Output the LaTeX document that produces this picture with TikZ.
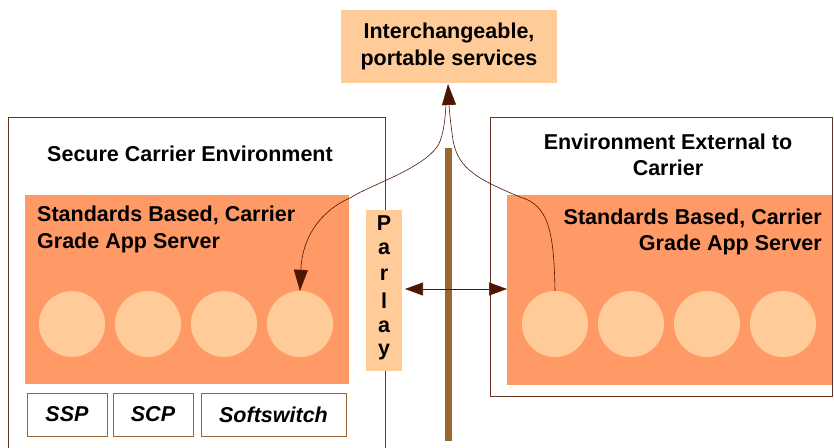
\documentclass[tikz,border=0pt]{standalone}
\usepackage{fontspec}
\setmainfont{Liberation Sans}
\usetikzlibrary{arrows.meta,positioning}
\definecolor{orangebg}{HTML}{FF9966}
\definecolor{peach}{HTML}{FFCC99}
\definecolor{brownline}{HTML}{663322}
\definecolor{barbrown}{HTML}{996633}
\definecolor{arrbrown}{HTML}{4D1600}
\tikzset{
  outerbox/.style={draw=brownline, line width=0.8pt, fill=white},
  serverbox/.style={fill=orangebg, draw=none},
  svc/.style={circle, fill=peach, draw=none, minimum size=66pt, inner sep=0pt},
  smallbox/.style={draw=barbrown, line width=1pt, fill=white, font=\bfseries\itshape\fontsize{21.5}{26}\selectfont},
  lbl/.style={font=\bfseries\fontsize{21.5}{26.5}\selectfont, inner sep=0pt},
  conn/.style={draw=arrbrown, line width=0.6pt},
  tip/.style={-{Triangle[length=21pt,width=14pt]}},
}
\begin{document}
\begin{tikzpicture}[x=1pt,y=-1pt]
\useasboundingbox (0,0) rectangle (834,447);
% outer boxes
\draw[outerbox] (8,117) rectangle (385,452);
\draw[outerbox] (490,117) rectangle (832,396);
\node[lbl] (lt) at (190,154) {Secure Carrier Environment};
\node[lbl, align=center] (rt) at (668,155) {Environment External to\\Carrier};
% server boxes
\path[serverbox] (25,195) rectangle (349,384);
\path[serverbox] (507,195) rectangle (832,385);
\node[lbl, align=left, anchor=west] (ls) at (37,229.5) {Standards Based, Carrier\\Grade App Server};
\node[lbl, align=right, anchor=east] (rs) at (822,232) {Standards Based, Carrier\\Grade App Server};
% circles
\node[svc] (l1) at (72,324) {};
\node[svc] (l2) at (148,324) {};
\node[svc] (l3) at (224,324) {};
\node[svc] (l4) at (300,324) {};
\node[svc] (r1) at (555,324) {};
\node[svc] (r2) at (631,324) {};
\node[svc] (r3) at (707,324) {};
\node[svc] (r4) at (783,324) {};
% bottom boxes
\node[smallbox, minimum width=80pt, minimum height=43pt, inner sep=0pt] (ssp) at (67,414.5) {SSP};
\node[smallbox, minimum width=80pt, minimum height=43pt, inner sep=0pt] (scp) at (153,414.5) {SCP};
\node[smallbox, minimum width=145pt, minimum height=43pt, inner sep=0pt] (sw) at (273.5,414.5) {Softswitch};
% parlay
\node[fill=peach, minimum width=36pt, minimum height=161pt, inner sep=0pt] (parlay) at (384,290.5) {};
\foreach \ch [count=\i] in {P,a,r,l,a,y}
  \node[lbl] at (384,197.5+25.8*\i) {\ch};
% bar
\path[fill=barbrown] (445,148) rectangle (452,441);
% top box
\node[fill=peach, minimum width=216pt, minimum height=73pt, inner sep=0pt, lbl, align=center] (top) at (449,46.5) {Interchangeable,\\portable services};
% double arrow
\coordinate (da1) at (405,289);
\coordinate (da2) at (507,289);
\draw[conn, {Triangle[length=18pt,width=13pt]}-{Triangle[length=18pt,width=13pt]}] (da1) -- (da2);
% curves
\coordinate (tipc) at (448,84);
\draw[conn, tip] (r1.north) .. controls (554,230) and (548,205) .. (520,197)
   .. controls (480,180) and (458,170) .. (453,140)
   .. controls (450,120) and (449,105) .. (tipc);
\draw[conn, tip] (446,104) .. controls (445,125) and (442,140) .. (437,147)
   .. controls (420,170) and (370,185) .. (350,198)
   .. controls (318,212) and (302,240) .. (l4.north);
\end{tikzpicture}
\end{document}
